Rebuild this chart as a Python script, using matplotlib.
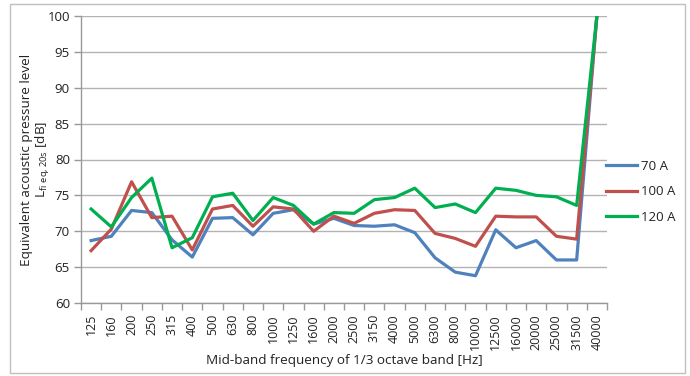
import matplotlib
matplotlib.use("Agg")
import matplotlib.pyplot as plt
from matplotlib.patches import Rectangle
import numpy as np

plt.rcParams['font.family'] = ['Open Sans', 'DejaVu Sans']

freqs = ['125', '160', '200', '250', '315', '400', '500', '630', '800', '1000',
         '1250', '1600', '2000', '2500', '3150', '4000', '5000', '6300', '8000',
         '10000', '12500', '16000', '20000', '25000', '31500', '40000']

a70 = [68.7, 69.3, 72.9, 72.6, 68.8, 66.4, 71.8, 71.9, 69.5, 72.5,
       73.0, 71.0, 71.8, 70.8, 70.7, 70.9, 69.8, 66.3, 64.3, 63.8,
       70.2, 67.7, 68.7, 66.0, 66.0, 100.0]
a100 = [67.3, 70.3, 76.9, 71.9, 72.1, 67.4, 73.1, 73.6, 70.7, 73.4,
        73.1, 70.0, 72.1, 71.1, 72.5, 73.0, 72.9, 69.7, 69.0, 67.9,
        72.1, 72.0, 72.0, 69.3, 68.9, 100.0]
a120 = [73.1, 70.6, 74.7, 77.4, 67.7, 69.1, 74.8, 75.3, 71.5, 74.7,
        73.6, 71.0, 72.6, 72.5, 74.4, 74.7, 76.0, 73.3, 73.8, 72.6,
        76.0, 75.7, 75.0, 74.8, 73.6, 100.0]

series = [('70 A', a70, '#4F81BD'),
          ('100 A', a100, '#C0504D'),
          ('120 A', a120, '#00B050')]

txt = '#222222'
fig = plt.figure(figsize=(6.9, 3.76), dpi=100)
ax = fig.add_axes([81/690, (376-303)/376, (607-81)/690, (303-16)/376])

x = np.arange(len(freqs))
for name, vals, col in series:
    ax.plot(x, vals, color=col, lw=2.3, label=name, solid_joinstyle='round')

ax.set_xlim(-0.5, len(freqs) - 0.5)
ax.set_ylim(60, 100)
ax.set_yticks(np.arange(60, 101, 5))
ax.grid(axis='y', color='#b3b3b3', lw=1)
ax.set_axisbelow(True)

# category labels centred, tick marks between categories
ax.set_xticks(x)
ax.set_xticklabels(freqs, rotation=90, fontsize=9, color=txt)
ax.set_xticks(np.arange(-0.5, len(freqs), 1), minor=True)
ax.tick_params(axis='x', which='major', length=0, pad=8)
ax.tick_params(axis='x', which='minor', length=5, color='#999999', width=1)
ax.tick_params(axis='y', length=5, color='#999999', width=1, labelsize=9.5,
               labelcolor=txt, pad=3)

for s in ['top', 'right']:
    ax.spines[s].set_visible(False)
for s in ['left', 'bottom']:
    ax.spines[s].set_color('#999999')
    ax.spines[s].set_linewidth(1)

ax.set_ylabel('Equivalent acoustic pressure level\n'
              r'$\mathregular{L_{fi\ eq,20s}}$ [dB]',
              fontsize=9.7, color=txt, linespacing=1.05)
ax.yaxis.set_label_coords(-0.056, 0.5)
ax.set_xlabel('Mid-band frequency of 1/3 octave band [Hz]', fontsize=9.7,
              color=txt)
ax.xaxis.set_label_coords(0.5, -0.178)

ax.legend(loc='center left', bbox_to_anchor=(0.975, 0.387), frameon=False,
          fontsize=9.5, handlelength=2.4, handletextpad=0.3, labelspacing=0.95,
          labelcolor=txt)

fig.add_artist(Rectangle((10/690, 3/376), 675/690, 369/376,
                         transform=fig.transFigure, fill=False,
                         edgecolor='#c0c0c0', lw=1))

fig.savefig('out.png', dpi=100)
